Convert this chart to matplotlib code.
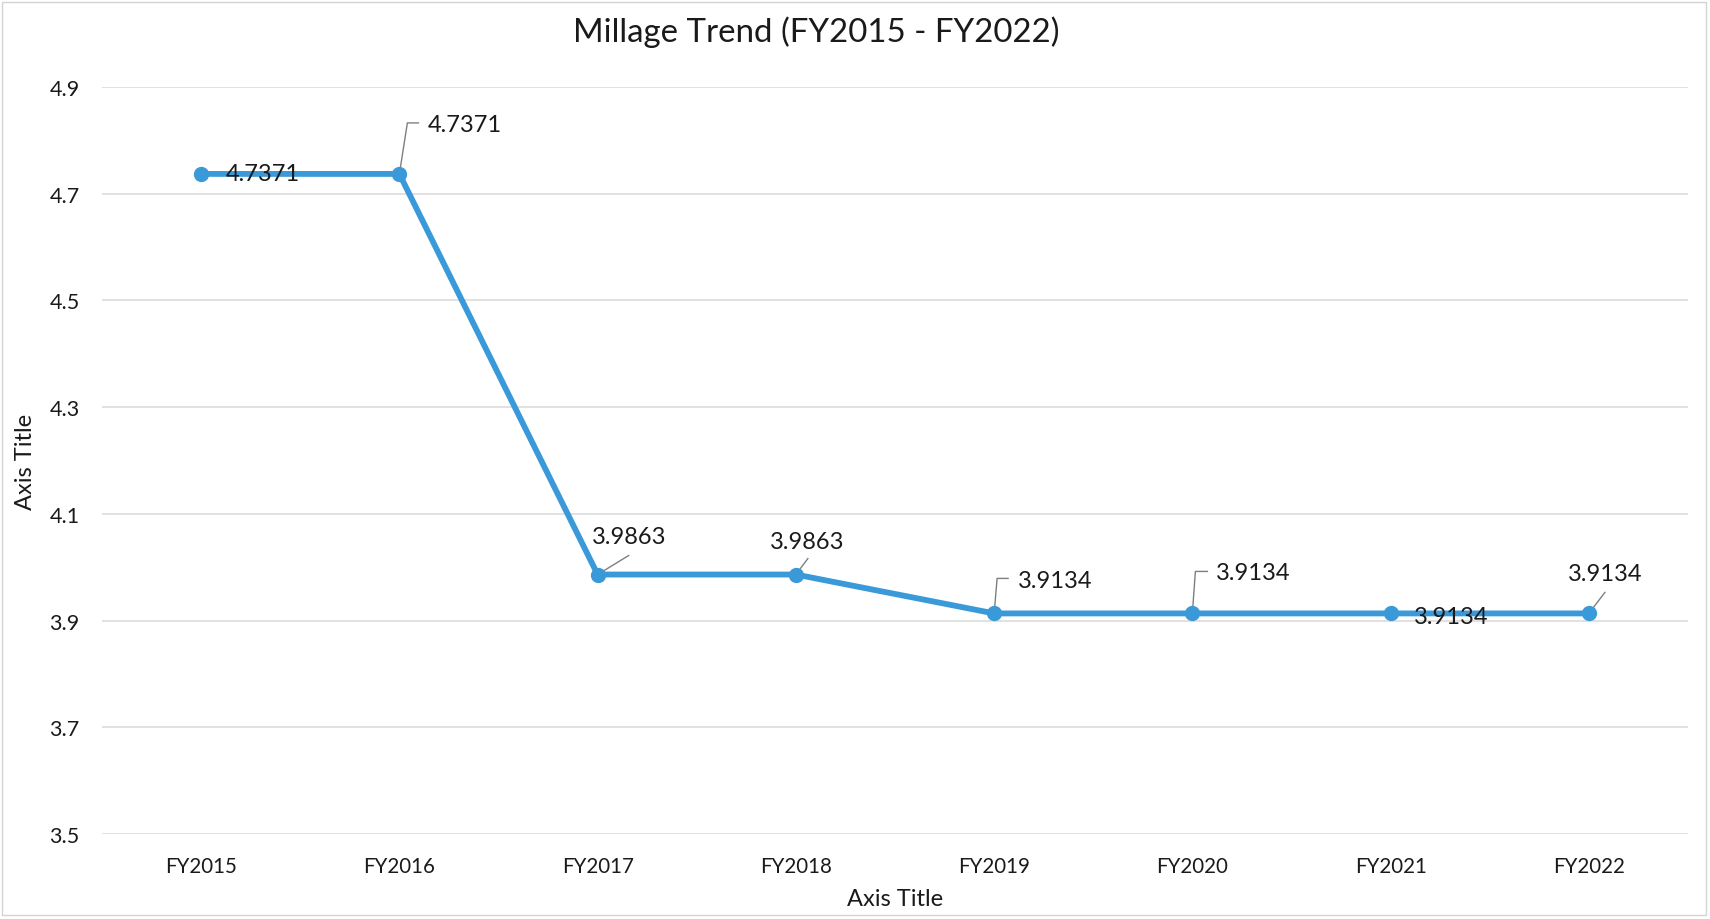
import matplotlib
matplotlib.use("Agg")
import matplotlib.pyplot as plt
from matplotlib.transforms import Affine2D, ScaledTranslation
from matplotlib.patches import Rectangle

categories = ["FY2015", "FY2016", "FY2017", "FY2018", "FY2019", "FY2020", "FY2021", "FY2022"]
millage = [4.7371, 4.7371, 3.9863, 3.9863, 3.9134, 3.9134, 3.9134, 3.9134]
y_ticks = [3.5, 3.7, 3.9, 4.1, 4.3, 4.5, 4.7, 4.9]
title = "Millage Trend (FY2015 - FY2022)"
x_title = "Axis Title"
y_title = "Axis Title"

# label placement (pixel offsets from each point, y up) and alignment
label_offsets = [(25, 0), (28, 49), (32, 38), (11, 33), (24, 33), (24, 41), (23, -3), (16, 40)]
label_ha = ["left", "left", "center", "center", "left", "left", "left", "center"]
leaders = [None,
           [(0, 0), (8, 51), (19, 51)],
           [(0, 0), (31, 19)],
           [(0, 0), (12, 16)],
           [(0, 0), (3, 35), (14, 35)],
           [(0, 0), (3, 42), (15, 42)],
           None,
           [(0, 0), (16, 21)]]

plt.rcParams['font.family'] = ['Lato', 'DejaVu Sans']
DPI = 100
W, H = 1710, 920
fig = plt.figure(figsize=(W / DPI, H / DPI), dpi=DPI)
fig.patch.set_facecolor("white")

left, right, top, bottom = 102, 1688, 88, 835
ax = fig.add_axes([left / W, 1 - bottom / H, (right - left) / W, (bottom - top) / H])

x = list(range(len(categories)))
line_color = "#3a9ad9"
text_color = "#1a1a1a"

ax.set_xlim(-0.5, len(categories) - 0.5)
ax.set_ylim(3.5, 4.9)
ax.set_yticks(y_ticks)
ax.set_yticklabels([f"{v:.1f}" for v in y_ticks])
ax.set_xticks(x)
ax.set_xticklabels(categories)
ax.tick_params(axis="both", length=0, labelcolor=text_color)
ax.tick_params(axis="y", pad=16, labelsize=15.5)
ax.tick_params(axis="x", pad=16, labelsize=14.8)
for s in ax.spines.values():
    s.set_visible(False)
ax.grid(axis="y", color="#d9d9d9", linewidth=1.1)
ax.set_axisbelow(True)

ax.plot(x, millage, color=line_color, linewidth=4.2, marker="o", markersize=10,
        markerfacecolor=line_color, markeredgecolor=line_color, zorder=3,
        solid_capstyle="round")

px2pt = 72.0 / DPI
scale = Affine2D().scale(DPI / 72.0)
for i, v in enumerate(millage):
    dx, dy = label_offsets[i]
    ax.annotate(f"{v:.4f}", xy=(i, v), xytext=(dx * px2pt, dy * px2pt),
                textcoords="offset points", ha=label_ha[i], va="center",
                fontsize=17, color=text_color, zorder=5)
    if leaders[i] is not None:
        xs = [p[0] * px2pt for p in leaders[i]]
        ys = [p[1] * px2pt for p in leaders[i]]
        tr = scale + ScaledTranslation(i, v, ax.transData)
        ax.plot(xs, ys, transform=tr, color="#7f7f7f", linewidth=1.0, zorder=2)

fig.text(816 / W, 1 - 32 / H, title, ha="center", va="center", fontsize=23.8, color=text_color)
fig.text((left + right) / 2 / W, 1 - 900 / H, x_title, ha="center", va="center",
         fontsize=17, color=text_color)
fig.text(26 / W, 1 - ((top + bottom) / 2) / H, y_title, ha="center", va="center",
         rotation=90, fontsize=17, color=text_color)

fig.patches.append(Rectangle((2 / W, 4 / H), (W - 6) / W, (H - 7) / H, transform=fig.transFigure,
                             fill=False, edgecolor="#d4d4d4", linewidth=1.0))

fig.savefig("out.png", dpi=DPI)
